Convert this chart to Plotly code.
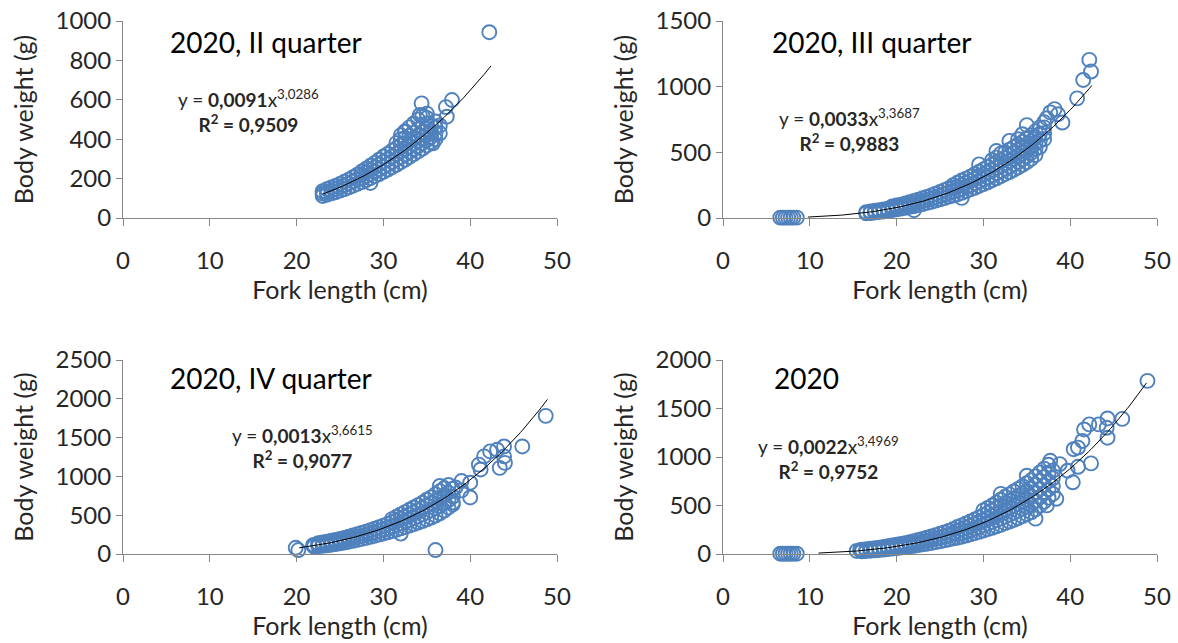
import numpy as np
import plotly.graph_objects as go

FONT = "Lato"
BLUE = "#4F81BD"
AXIS_GREY = "#868686"
TEXT = "#262626"

# ---------------- chart data ----------------
panel_titles = ["2020, II quarter", "2020, III quarter", "2020, IV quarter", "2020"]
eq_a_txt = ["0,0091", "0,0033", "0,0013", "0,0022"]
eq_b_txt = ["3,0286", "3,3687", "3,6615", "3,4969"]
eq_r2_txt = ["0,9509", "0,9883", "0,9077", "0,9752"]
coef_a = [0.0091, 0.0033, 0.0013, 0.0022]
coef_b = [3.0286, 3.3687, 3.6615, 3.4969]
trend_from = [23.0, 9.8, 20.3, 11.0]
trend_to = [42.4, 42.5, 48.9, 48.8]
y_max = [1000, 1500, 2500, 2000]
y_step = [200, 500, 500, 500]
x_ticks = [0, 10, 20, 30, 40, 50]

# ---- 2020, II quarter ----
q2_len_grid = [23.0, 23.5, 24.0, 24.5, 25.0, 25.5, 26.0, 26.5, 27.0, 27.5, 28.0, 28.5,
               29.0, 29.5, 30.0, 30.5, 31.0, 31.5, 32.0, 32.5, 33.0, 33.5, 34.0, 34.5,
               35.0, 35.5, 36.0, 36.5]
q2_wt_grid = [[112, 124, 136], [118, 131, 146], [125, 139, 155], [131, 147, 163],
              [139, 156, 173], [147, 166, 184], [155, 176, 195], [164, 187, 207],
              [173, 197, 220], [182, 200, 218, 236], [192, 212, 232, 250],
              [202, 224, 245, 265], [213, 236, 258, 280], [223, 248, 272, 296],
              [234, 260, 286, 312], [246, 272, 298, 325], [258, 285, 312, 342],
              [270, 298, 326, 355, 380], [283, 310, 340, 370, 400, 420],
              [296, 322, 350, 378, 406, 440], [310, 336, 362, 390, 418, 460],
              [324, 350, 378, 405, 432, 480], [338, 365, 392, 420, 450, 500],
              [352, 380, 408, 436, 465, 520], [368, 395, 422, 450, 480, 530],
              [385, 412, 440, 470], [400, 430, 460, 490], [430, 470]]
q2_len_out = [28.5, 32.5, 34.2, 34.4, 35.0, 35.7, 36.0, 37.2, 37.3, 37.9, 42.2]
q2_wt_out = [178, 438, 523, 582, 508, 379, 462, 563, 514, 599, 943]

# ---- 2020, III quarter ----
q3_len_grid = [16.5, 17.0, 17.5, 18.0, 18.5, 19.0, 19.5, 20.0, 20.5, 21.0, 21.5, 22.0,
               22.5, 23.0, 23.5, 24.0, 24.5, 25.0, 25.5, 26.0, 26.5, 27.0, 27.5, 28.0,
               28.5, 29.0, 29.5, 30.0, 30.5, 31.0, 31.5, 32.0, 32.5, 33.0, 33.5, 34.0,
               34.5, 35.0, 35.5, 36.0, 36.5, 37.0]
q3_wt_grid = [[35, 45], [38, 50], [42, 55], [46, 60], [50, 65], [55, 70],
              [60, 75, 88], [66, 80, 95], [72, 87, 102], [78, 94, 110], [85, 102, 120],
              [90, 110, 130], [98, 119, 140], [106, 128, 150], [115, 137, 160],
              [123, 147, 172], [133, 158, 185], [142, 169, 198], [152, 181, 212],
              [163, 193, 225], [170, 200, 230, 250], [180, 210, 240, 268],
              [192, 222, 252, 285], [204, 236, 268, 300], [218, 250, 282, 315],
              [230, 265, 298, 335], [244, 280, 315, 352], [258, 295, 332, 370],
              [272, 310, 350, 390], [288, 326, 365, 405, 440], [302, 342, 382, 422, 460],
              [318, 358, 398, 440, 490], [335, 375, 415, 455, 500],
              [350, 392, 434, 476, 520], [368, 410, 452, 495, 540],
              [385, 428, 472, 515, 560, 600], [405, 448, 492, 535, 580],
              [425, 470, 515, 560, 605], [450, 495, 540, 585, 630],
              [480, 525, 570, 615, 660], [540, 590, 640, 690], [600, 645, 690, 730]]
q3_len_out = [6.6, 6.9, 7.2, 7.5, 7.8, 8.1, 8.5, 22.0, 27.5, 29.5, 31.5, 33.0, 34.5,
              35.0, 37.3, 37.7, 38.2, 38.6, 39.1, 40.8, 41.5, 42.2, 42.4]
q3_wt_out = [3, 3, 3, 3, 3, 3, 3, 59, 153, 408, 510, 587, 638,
             707, 760, 804, 829, 790, 727, 911, 1051, 1204, 1115]

# ---- 2020, IV quarter ----
q4_len_grid = [22.0, 22.5, 23.0, 23.5, 24.0, 24.5, 25.0, 25.5, 26.0, 26.5, 27.0, 27.5,
               28.0, 28.5, 29.0, 29.5, 30.0, 30.5, 31.0, 31.5, 32.0, 32.5, 33.0, 33.5,
               34.0, 34.5, 35.0, 35.5, 36.0, 36.5, 37.0, 37.5, 38.0]
q4_wt_grid = [[95, 115], [100, 120, 140], [105, 128, 150], [112, 135, 158],
              [120, 145, 170], [128, 155, 182], [138, 166, 195], [148, 178, 208],
              [158, 190, 222], [170, 203, 238], [182, 217, 254], [195, 232, 270],
              [208, 248, 288], [222, 264, 306], [236, 280, 325], [250, 298, 345],
              [265, 316, 366], [280, 335, 388], [296, 354, 410, 450],
              [312, 374, 434, 480], [330, 395, 458, 510], [348, 416, 484, 540],
              [366, 438, 510, 570], [386, 460, 536, 600], [405, 485, 562, 630],
              [425, 510, 590, 660], [446, 535, 620, 700], [470, 562, 650, 730],
              [495, 590, 685, 770], [525, 620, 720, 810], [560, 655, 755, 850],
              [600, 695, 790, 890], [640, 740, 840]]
q4_len_out = [19.9, 20.2, 21.9, 32.0, 36.0, 36.5, 38.0, 38.3, 39.0, 39.0, 40.0, 40.0,
              41.0, 41.2, 41.6, 42.3, 43.1, 43.4, 43.9, 43.9, 44.0, 46.0, 48.7]
q4_wt_out = [80, 51, 114, 263, 51, 877, 665, 856, 940, 820, 729, 919,
             1152, 1089, 1258, 1322, 1343, 1110, 1386, 1258, 1174, 1386, 1780]

# ---- 2020 (all) ----
all_len_grid = [16.0, 16.5, 17.0, 17.5, 18.0, 18.5, 19.0, 19.5, 20.0, 20.5, 21.0, 21.5,
                22.0, 22.5, 23.0, 23.5, 24.0, 24.5, 25.0, 25.5, 26.0, 26.5, 27.0, 27.5,
                28.0, 28.5, 29.0, 29.5, 30.0, 30.5, 31.0, 31.5, 32.0, 32.5, 33.0, 33.5,
                34.0, 34.5, 35.0, 35.5, 36.0, 36.5, 37.0, 37.5, 38.0]
all_wt_grid = [[28, 45], [31, 50], [34, 55], [38, 60], [42, 66], [46, 72],
               [50, 65, 80], [55, 71, 88], [60, 78, 96], [66, 85, 104], [72, 92, 112],
               [78, 100, 122], [85, 109, 133], [92, 118, 145], [99, 127, 156],
               [106, 137, 168], [114, 147, 180], [122, 158, 194], [130, 170, 208],
               [140, 182, 223], [150, 195, 238], [160, 208, 255], [168, 205, 240, 278],
               [178, 218, 256, 295], [190, 232, 272, 315], [202, 246, 290, 335],
               [215, 262, 308, 355], [228, 278, 328, 378], [242, 295, 348, 400, 450],
               [256, 312, 368, 424, 475], [270, 330, 390, 448, 500],
               [285, 348, 410, 472, 530], [300, 365, 430, 495, 560, 620],
               [318, 385, 452, 520, 590], [335, 405, 475, 545, 615],
               [352, 425, 498, 570, 645], [370, 445, 520, 595, 670],
               [390, 468, 545, 622, 700], [410, 490, 570, 650, 730, 807],
               [430, 512, 595, 678, 760], [365, 460, 545, 630, 715, 800],
               [500, 585, 670, 755, 840], [540, 625, 710, 795, 880],
               [580, 665, 750, 835, 920], [620, 700, 780, 860]]
all_len_out = [6.6, 6.9, 7.2, 7.5, 7.8, 8.1, 8.5, 15.4, 15.8, 37.3, 37.7, 38.4, 38.8,
               39.7, 40.3, 40.4, 40.9, 40.9, 41.4, 41.6, 42.2, 42.4, 43.3, 44.2, 44.3,
               44.3, 46.0, 48.9]
all_wt_out = [3, 3, 3, 3, 3, 3, 3, 31, 40, 501, 961, 569, 927,
              859, 739, 1080, 1097, 899, 1165, 1284, 1336, 934, 1336, 1301, 1397,
              1199, 1393, 1785]

panels = [
    (q2_len_grid, q2_wt_grid, q2_len_out, q2_wt_out),
    (q3_len_grid, q3_wt_grid, q3_len_out, q3_wt_out),
    (q4_len_grid, q4_wt_grid, q4_len_out, q4_wt_out),
    (all_len_grid, all_wt_grid, all_len_out, all_wt_out),
]

# ---------------- layout geometry ----------------
W, H = 1178, 643
x_dom = [[123 / W, 557 / W], [723 / W, 1157 / W]]
y_dom = [[(H - 218) / H, (H - 21) / H], [(H - 554) / H, (H - 360) / H]]
title_pos = [(168, 42), (770, 42), (168, 378), (772, 378)]
eq_pos = [(248, 111), (849, 130), (302, 447), (828, 458)]

fig = go.Figure()
layout = dict(width=W, height=H, margin=dict(l=0, r=0, t=0, b=0, autoexpand=False),
              paper_bgcolor="white", plot_bgcolor="white", showlegend=False,
              font=dict(family=FONT, color=TEXT))
annotations = []

for i, (lg, wg, lo, wo) in enumerate(panels):
    xs, ys = [], []
    for xv, wl in zip(lg, wg):
        for wv in wl:
            xs.append(xv)
            ys.append(wv)
    xs += lo
    ys += wo
    ax = "" if i == 0 else str(i + 1)
    fig.add_trace(go.Scatter(
        x=xs, y=ys, mode="markers", cliponaxis=False,
        marker=dict(symbol="circle-open", size=14, color=BLUE, line=dict(width=1.9, color=BLUE)),
        xaxis="x" + ax, yaxis="y" + ax, hoverinfo="skip"))
    xt = np.linspace(trend_from[i], trend_to[i], 120)
    fig.add_trace(go.Scatter(
        x=xt, y=coef_a[i] * xt ** coef_b[i], mode="lines",
        line=dict(color="black", width=1), xaxis="x" + ax, yaxis="y" + ax, hoverinfo="skip"))

    col, row = i % 2, i // 2
    layout["xaxis" + ax] = dict(
        domain=x_dom[col], anchor="y" + ax, range=[0, 50], tickvals=x_ticks,
        automargin=False,
        showline=True, linecolor=AXIS_GREY, linewidth=1, ticks="outside", ticklen=7,
        tickcolor=AXIS_GREY, showgrid=False, zeroline=False, ticklabelstandoff=14,
        tickfont=dict(family=FONT, size=24, color=TEXT),
        title=dict(text="Fork length (cm)", font=dict(family=FONT, size=25, color=TEXT), standoff=8))
    layout["yaxis" + ax] = dict(
        domain=y_dom[row], anchor="x" + ax, range=[0, y_max[i]], dtick=y_step[i],
        automargin=False,
        showline=True, linecolor=AXIS_GREY, linewidth=1, ticks="outside", ticklen=6,
        tickcolor=AXIS_GREY, showgrid=False, zeroline=False,
        tickfont=dict(family=FONT, size=24, color=TEXT),
        title=dict(text="Body weight (g)", font=dict(family=FONT, size=25, color=TEXT), standoff=14))

    tx, ty = title_pos[i]
    annotations.append(dict(text=panel_titles[i], xref="paper", yref="paper",
                            x=tx / W, y=1 - ty / H, xanchor="left", yanchor="middle",
                            showarrow=False, font=dict(family=FONT, size=28, color="black")))
    ex, ey = eq_pos[i]
    annotations.append(dict(
        text=("y = <b>" + eq_a_txt[i] + "</b>x<sup>" + eq_b_txt[i] + "</sup><br>"
              "<b>R<sup>2</sup> = " + eq_r2_txt[i] + "</b>"),
        xref="paper", yref="paper", x=ex / W, y=1 - ey / H, xanchor="center",
        yanchor="middle", align="center", showarrow=False,
        font=dict(family=FONT, size=19, color=TEXT)))

layout["annotations"] = annotations
fig.update_layout(**layout)
fig.write_html("out.html", config={"displayModeBar": False},
               post_script="document.body.style.margin='0px';document.body.style.overflow='hidden';")
